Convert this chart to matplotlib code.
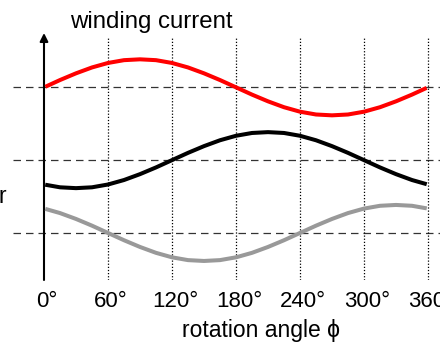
import numpy as np
import matplotlib
matplotlib.use("Agg")
from matplotlib import pyplot as plt
from matplotlib.transforms import blended_transform_factory

plt.rcParams['font.family'] = ['Liberation Sans', 'DejaVu Sans']

# rotation angle in degrees
angle = [3, 15, 30, 45, 60, 75, 90, 105, 120, 135, 150, 165, 180,
         195, 210, 225, 240, 255, 270, 285, 300, 315, 330, 345, 357]

# winding currents (normalised to peak = 1)
red_cur = [0.05, 0.26, 0.50, 0.71, 0.87, 0.97, 1.00, 0.97, 0.87, 0.71, 0.50, 0.26, 0.00,
           -0.26, -0.50, -0.71, -0.87, -0.97, -1.00, -0.97, -0.87, -0.71, -0.50, -0.26, -0.05]
black_cur = [-0.89, -0.97, -1.00, -0.97, -0.87, -0.71, -0.50, -0.26, 0.00, 0.26, 0.50, 0.71, 0.87,
             0.97, 1.00, 0.97, 0.87, 0.71, 0.50, 0.26, 0.00, -0.26, -0.50, -0.71, -0.84]
gray_cur = [0.84, 0.71, 0.50, 0.26, 0.00, -0.26, -0.50, -0.71, -0.87, -0.97, -1.00, -0.97, -0.87,
            -0.71, -0.50, -0.26, 0.00, 0.26, 0.50, 0.71, 0.87, 0.97, 1.00, 0.97, 0.89]

tick_deg = [0, 60, 120, 180, 240, 300, 360]
tick_lbl = ["0°", "60°", "120°", "180°", "240°", "300°", "360°"]

offsets = [5.2, 2.6, 0.0]  # baseline of each trace
colors = ['#ff0000', '#000000', '#999999']

W, H = 440, 347
fig = plt.figure(figsize=(W / 100, H / 100), dpi=100)
ax = fig.add_axes([13 / W, 1 - 280 / H, 427 / W, (280 - 33) / H])
ax.set_xlim(-29.06, 371.25)
ax.set_ylim(-1.68, 7.14)
ax.axis('off')

# dashed reference lines
for off in offsets:
    ax.axhline(off, color='#333333', lw=0.9, ls=(0, (6, 4)), zorder=1)

# dotted angle lines
for d in tick_deg[1:]:
    ax.plot([d, d], [-1.68, 7.0], color='k', lw=0.9, ls=(0, (1, 1.5)), zorder=1)

# vertical axis with arrow
ax.annotate('', xy=(0, 7.14), xytext=(0, -1.68),
            arrowprops=dict(arrowstyle='-|>', lw=1.5, color='k', mutation_scale=12,
                            shrinkA=0, shrinkB=0), annotation_clip=False)

for cur, off, c in zip([red_cur, black_cur, gray_cur], offsets, colors):
    ax.plot(angle, np.array(cur) + off, color=c, lw=2.9, zorder=3)

trans = blended_transform_factory(ax.transData, fig.transFigure)
for d, lbl in zip(tick_deg, tick_lbl):
    ax.text(d + 3, 1 - 307 / H, lbl, ha='center', va='baseline', fontsize=16,
            transform=trans, clip_on=False)

fig.text(151 / W, 1 - 28 / H, "winding current", ha='center', va='baseline', fontsize=17.3)
fig.text(261 / W, 1 - 337 / H, "rotation angle \u03d5", ha='center', va='baseline', fontsize=16.5)
fig.text(-0.004, 1 - 203 / H, "r", ha='left', va='baseline', fontsize=16.5)

fig.savefig("out.png", dpi=100)
